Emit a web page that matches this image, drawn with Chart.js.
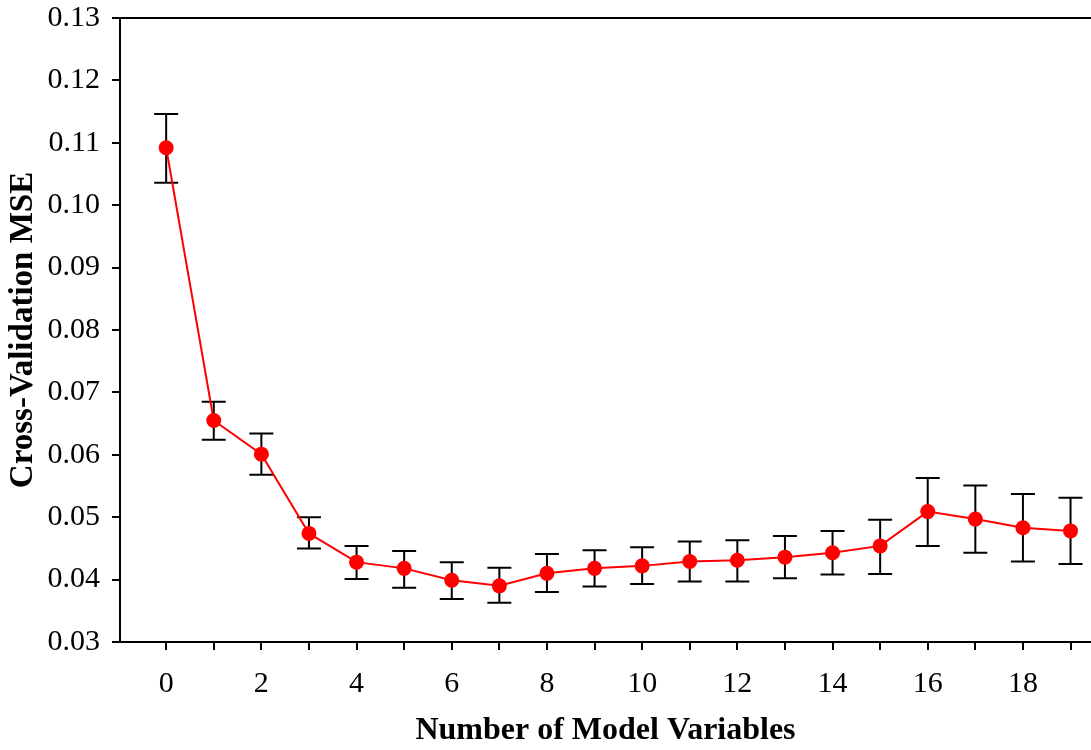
<!DOCTYPE html>
<html>
<head>
<meta charset="utf-8">
<script src="https://cdn.jsdelivr.net/npm/chart.js@4"></script>
<style>
  body { margin: 0; background: #fff; }
</style>
</head>
<body>
<canvas id="cvChart" width="1091" height="750"></canvas>
<script>
const numVars = [0, 1, 2, 3, 4, 5, 6, 7, 8, 9, 10, 11, 12, 13, 14, 15, 16, 17, 18, 19];
const mse = [0.1092, 0.0655, 0.0601, 0.0474, 0.0428, 0.0418, 0.0399, 0.0390, 0.0410, 0.0418,
             0.0422, 0.0429, 0.0431, 0.0436, 0.0443, 0.0454, 0.0509, 0.0497, 0.0483, 0.0478];
const mseUpper = [0.1146, 0.0685, 0.0634, 0.0500, 0.0454, 0.0446, 0.0428, 0.0419, 0.0441, 0.0447,
                  0.0452, 0.0461, 0.0463, 0.0470, 0.0478, 0.0496, 0.0563, 0.0551, 0.0537, 0.0531];
const mseLower = [0.1036, 0.0624, 0.0568, 0.0450, 0.0401, 0.0387, 0.0369, 0.0363, 0.0380, 0.0389,
                  0.0393, 0.0397, 0.0397, 0.0402, 0.0408, 0.0409, 0.0454, 0.0443, 0.0429, 0.0425];
const yTicks = [0.03, 0.04, 0.05, 0.06, 0.07, 0.08, 0.09, 0.10, 0.11, 0.12, 0.13];

const serif = '"Liberation Serif", "Times New Roman", serif';

// error bars + top frame line, drawn before the points
const errorBars = {
    id: 'errorBars',
    beforeDatasetsDraw(chart) {
        const { ctx, scales: { x, y }, chartArea } = chart;
        ctx.save();
        ctx.strokeStyle = '#000';
        ctx.lineWidth = 2;
        ctx.beginPath();
        ctx.moveTo(chartArea.left - 1, chartArea.top);
        ctx.lineTo(chartArea.right, chartArea.top);
        ctx.stroke();
        numVars.forEach((n, i) => {
            const px = x.getPixelForValue(n);
            const top = y.getPixelForValue(mseUpper[i]);
            const bot = y.getPixelForValue(mseLower[i]);
            ctx.beginPath();
            ctx.moveTo(px, top);
            ctx.lineTo(px, bot);
            ctx.moveTo(px - 12, top);
            ctx.lineTo(px + 12, top);
            ctx.moveTo(px - 12, bot);
            ctx.lineTo(px + 12, bot);
            ctx.stroke();
        });
        ctx.restore();
    }
};

new Chart(document.getElementById('cvChart'), {
    type: 'line',
    data: {
        datasets: [{
            data: numVars.map((n, i) => ({ x: n, y: mse[i] })),
            borderColor: '#ff0000',
            backgroundColor: '#ff0000',
            borderWidth: 2,
            pointRadius: 7.5,
            pointHoverRadius: 7.5,
            pointBorderWidth: 0,
            tension: 0
        }]
    },
    options: {
        responsive: false,
        animation: false,
        layout: { autoPadding: false, padding: { top: 18, right: 0, left: 0, bottom: 0 } },
        plugins: { legend: { display: false }, tooltip: { enabled: false } },
        scales: {
            x: {
                type: 'linear',
                min: -0.97,
                max: 19.43,
                afterBuildTicks: (scale) => { scale.ticks = numVars.map(v => ({ value: v })); },
                afterFit: (scale) => {
                    scale.height = 108;
                    scale.paddingLeft = 0;
                    scale.paddingRight = 0;
                },
                border: { display: true, color: '#000', width: 2 },
                grid: { drawOnChartArea: false, drawTicks: true, tickLength: 8, color: '#000', lineWidth: 2 },
                ticks: {
                    autoSkip: false,
                    maxRotation: 0,
                    padding: 16,
                    color: '#000',
                    font: { family: serif, size: 30 },
                    callback: (v) => (v % 2 === 0 ? String(v) : '')
                },
                title: {
                    display: true,
                    text: 'Number of Model Variables',
                    color: '#000',
                    font: { family: serif, size: 32, weight: 'bold' },
                    padding: { top: 14, bottom: 0 }
                }
            },
            y: {
                min: 0.03,
                max: 0.13,
                afterBuildTicks: (scale) => { scale.ticks = yTicks.map(v => ({ value: v })); },
                afterFit: (scale) => {
                    scale.width = 120;
                    scale.paddingTop = 0;
                    scale.paddingBottom = 0;
                },
                border: { display: true, color: '#000', width: 2 },
                grid: { drawOnChartArea: false, drawTicks: true, tickLength: 8, color: '#000', lineWidth: 2 },
                ticks: {
                    padding: 12,
                    color: '#000',
                    font: { family: serif, size: 30 },
                    callback: (v) => v.toFixed(2)
                },
                title: {
                    display: true,
                    text: 'Cross-Validation MSE',
                    color: '#000',
                    font: { family: serif, size: 33, weight: 'bold' },
                    padding: { top: 4, bottom: 0 }
                }
            }
        }
    },
    plugins: [errorBars]
});
</script>
</body>
</html>
